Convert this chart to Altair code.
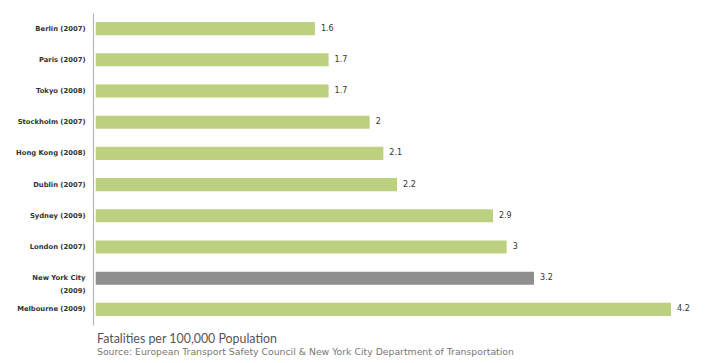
import altair as alt
import pandas as pd

cities = ["Berlin (2007)", "Paris (2007)", "Tokyo (2008)", "Stockholm (2007)",
          "Hong Kong (2008)", "Dublin (2007)", "Sydney (2009)", "London (2007)",
          "New York City|(2009)", "Melbourne (2009)"]
values = [1.6, 1.7, 1.7, 2, 2.1, 2.2, 2.9, 3, 3.2, 4.2]
highlight = [False, False, False, False, False, False, False, False, True, False]

df = pd.DataFrame({"city": cities, "value": values, "hl": highlight})

wide = "DejaVu Sans"

y = alt.Y("city:N", sort=cities, title=None,
          scale=alt.Scale(paddingInner=0.58, paddingOuter=0.29),
          axis=alt.Axis(ticks=False, domainColor="#b5b5b5", domainWidth=1.2,
                        labelFont=wide, labelFontSize=6.8, labelFontWeight="bold",
                        labelColor="#333333", labelPadding=8, labelLineHeight=13,
                        labelExpr="split(datum.value, '|')"))
x = alt.X("value:Q", title=None, axis=None,
          scale=alt.Scale(domain=[-0.02, 4.2], nice=False, zero=False))

bars = alt.Chart(df).mark_bar().encode(
    y=y, x=x, x2=alt.datum(0),
    color=alt.Color("hl:N", scale=alt.Scale(domain=[False, True], range=["#bcd07f", "#8e8e8e"]), legend=None),
)
labels = alt.Chart(df).mark_text(align="left", baseline="middle", dx=6, font=wide,
                                 fontSize=8, color="#333333").encode(
    y=alt.Y("city:N", sort=cities), x="value:Q", text="value:Q")

chart = alt.layer(bars, labels).properties(
    width=578, height=312,
    autosize=alt.AutoSizeParams(type="none"),
    padding={"left": 85, "top": 5, "right": 30, "bottom": 35},
    title=alt.TitleParams(
        text="Fatalities per 100,000 Population",
        subtitle="Source: European Transport Safety Council & New York City Department of Transportation",
        orient="bottom", anchor="start", frame="group", offset=8, dx=4,
        font="Lato", fontSize=12.4, fontWeight="normal", color="#555555",
        subtitleFont=wide, subtitleFontSize=9.3, subtitleColor="#777777", subtitlePadding=3,
    ),
).configure_view(stroke=None)

chart.save("out.html", embed_options={"renderer": "svg", "actions": False})
